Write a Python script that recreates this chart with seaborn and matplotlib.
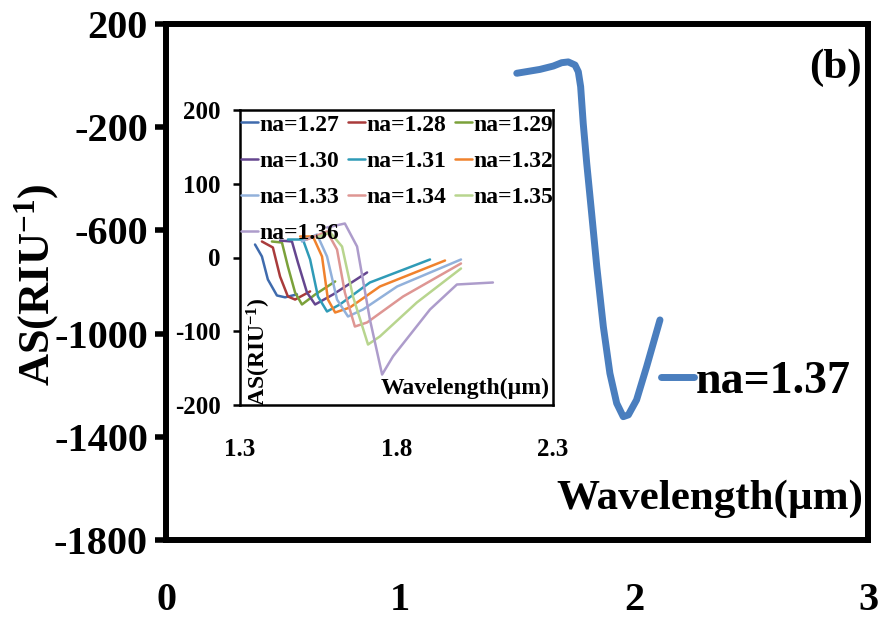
import matplotlib
matplotlib.use('Agg')
import matplotlib.pyplot as plt
import seaborn as sns
import pandas as pd

sns.set_style('white')
plt.rcParams['font.family'] = ['Liberation Serif', 'DejaVu Serif']
plt.rcParams['font.weight'] = 'bold'
plt.rcParams['axes.unicode_minus'] = False
plt.rcParams['text.color'] = 'black'
plt.rcParams['axes.labelcolor'] = 'black'
plt.rcParams['xtick.color'] = 'black'
plt.rcParams['ytick.color'] = 'black'
plt.rcParams['mathtext.fontset'] = 'custom'
plt.rcParams['mathtext.rm'] = 'Liberation Serif:bold'
plt.rcParams['mathtext.it'] = 'Liberation Serif:bold'
plt.rcParams['mathtext.bf'] = 'Liberation Serif:bold'

# ---- main curve (na=1.37) ----
main_wl = [1.499, 1.598, 1.655, 1.691, 1.719, 1.748, 1.762, 1.772, 1.783, 1.798,
           1.819, 1.841, 1.869, 1.897, 1.926, 1.954, 1.976, 2.011, 2.054, 2.111]
main_as = [9, 24, 37, 50, 53, 41, 15, -43, -185, -340,
           -534, -741, -973, -1154, -1270, -1322, -1315, -1257, -1128, -947]

# ---- inset curves ----
na_labels = ['na=1.27', 'na=1.28', 'na=1.29', 'na=1.30', 'na=1.31',
             'na=1.32', 'na=1.33', 'na=1.34', 'na=1.35', 'na=1.36']
wl_127 = [1.348, 1.370, 1.389, 1.418, 1.444, 1.482]
as_127 = [17.6, 1.4, -29.8, -51.5, -54.0, -50.0]
wl_128 = [1.370, 1.405, 1.428, 1.453, 1.476, 1.524]
as_128 = [21.7, 13.6, -25.8, -52.9, -57.0, -46.0]
wl_129 = [1.402, 1.434, 1.453, 1.476, 1.498, 1.540, 1.604]
as_129 = [21.7, 20.3, -12.2, -47.5, -63.7, -50.2, -32.5]
wl_130 = [1.428, 1.466, 1.485, 1.514, 1.540, 1.597, 1.706]
as_130 = [23.0, 21.7, -6.8, -47.5, -63.7, -50.2, -20.3]
wl_131 = [1.453, 1.501, 1.524, 1.549, 1.578, 1.619, 1.715, 1.907]
as_131 = [24.4, 24.4, -2.7, -52.9, -73.2, -63.7, -33.9, -2.7]
wl_132 = [1.492, 1.533, 1.562, 1.581, 1.604, 1.651, 1.747, 1.955]
as_132 = [28.5, 28.5, 1.4, -57.0, -74.6, -67.8, -39.3, -4.1]
wl_133 = [1.498, 1.546, 1.578, 1.610, 1.645, 1.693, 1.802, 2.006]
as_133 = [21.7, 31.2, 1.4, -57.0, -80.0, -70.5, -39.3, -2.7]
wl_134 = [1.514, 1.578, 1.610, 1.635, 1.667, 1.706, 1.821, 2.006]
as_134 = [24.4, 35.3, 10.8, -47.5, -93.6, -88.1, -52.9, -8.1]
wl_135 = [1.546, 1.588, 1.626, 1.661, 1.709, 1.747, 1.865, 2.006]
as_135 = [27.1, 33.9, 14.9, -52.9, -118.0, -107.0, -61.0, -14.9]
wl_136 = [1.578, 1.635, 1.674, 1.715, 1.754, 1.789, 1.907, 1.993, 2.108]
as_136 = [40.7, 46.1, 14.9, -84.0, -158.7, -134.0, -70.5, -36.6, -33.9]

inset_wl = [wl_127, wl_128, wl_129, wl_130, wl_131, wl_132, wl_133, wl_134, wl_135, wl_136]
inset_as = [as_127, as_128, as_129, as_130, as_131, as_132, as_133, as_134, as_135, as_136]
inset_colors = ['#3F6BAD', '#A93B3B', '#7BA13A', '#65468F', '#2F9BB7',
                '#F0822D', '#92B1DB', '#DE9693', '#B8D58E', '#AD9CCB']

rows = []
for lab, xs, ys in zip(na_labels, inset_wl, inset_as):
    for i, (x, y) in enumerate(zip(xs, ys)):
        rows.append({'na': lab, 'idx': i, 'wl': x, 'as': y})
inset_df = pd.DataFrame(rows)

fig = plt.figure(figsize=(8.82, 6.18), dpi=100)
ax = fig.add_axes([166 / 882, 1 - 540 / 618, 702 / 882, 516 / 618])

sns.lineplot(x=main_wl, y=main_as, sort=False, estimator=None, ax=ax,
             color='#4A7EBE', linewidth=5, label='na=1.37')
ax.set_xlim(0, 3)
ax.set_ylim(-1800, 200)
ax.set_xticks([0, 1, 2, 3])
ax.set_yticks(range(-1800, 201, 400))
ax.tick_params(axis='x', length=0, pad=30, labelsize=29)
ax.tick_params(axis='y', direction='out', length=8, width=4, pad=5, labelsize=29, left=True)
for s in ax.spines.values():
    s.set_linewidth(4.3)
    s.set_color('black')

ax.set_ylabel('AS(RIU$^{-1}$)', fontsize=32, fontweight='bold')
ax.yaxis.set_label_coords(-0.15, 0.494)
ax.set_xlabel('Wavelength(µm)', fontsize=31, fontweight='bold')
ax.xaxis.set_label_coords(0.775, 0.118)
ax.text(0.991, 0.953, '(b)', transform=ax.transAxes, ha='right', va='top',
        fontsize=31, fontweight='bold')
ax.legend(loc='center left', bbox_to_anchor=(0.705, 0.306), frameon=False,
          fontsize=33, handlelength=0.72, handletextpad=0.05, borderpad=0,
          borderaxespad=0)

# ---- inset ----
axi = fig.add_axes([240 / 882, 1 - 405 / 618, 313 / 882, 295 / 618])
sns.lineplot(data=inset_df, x='wl', y='as', hue='na', units='na', sort=False,
             estimator=None, palette=inset_colors, linewidth=1.8, ax=axi)
axi.set_xlim(1.3, 2.3)
axi.set_ylim(-200, 200)
axi.set_xticks([1.3, 1.8, 2.3])
axi.set_yticks([-200, -100, 0, 100, 200])
axi.tick_params(axis='x', length=0, pad=24, labelsize=18)
axi.tick_params(axis='y', direction='out', length=5, width=1.8, pad=9, labelsize=18, left=True)
for s in axi.spines.values():
    s.set_linewidth(1.8)
    s.set_color('black')
axi.set_xlabel('')
axi.set_ylabel('')
axi.text(0.99, 0.057, 'Wavelength(µm)', transform=axi.transAxes, ha='right', va='center',
         fontsize=17, fontweight='bold')
axi.text(0.06, 0.18, 'AS(RIU$^{-1}$)', transform=axi.transAxes, ha='center', va='center',
         rotation=90, fontsize=17, fontweight='bold')

# legend filled row by row like the original
handles, labels = axi.get_legend_handles_labels()
order = [0, 3, 6, 9, 1, 4, 7, 2, 5, 8]
axi.legend([handles[i] for i in order], [labels[i] for i in order],
           loc='upper left', bbox_to_anchor=(0.0, 0.99), ncol=3, frameon=False,
           fontsize=17, handlelength=0.7, handletextpad=0.05, columnspacing=0.4,
           labelspacing=0.62, borderpad=0.05, borderaxespad=0)

fig.savefig('out.png', dpi=100)
